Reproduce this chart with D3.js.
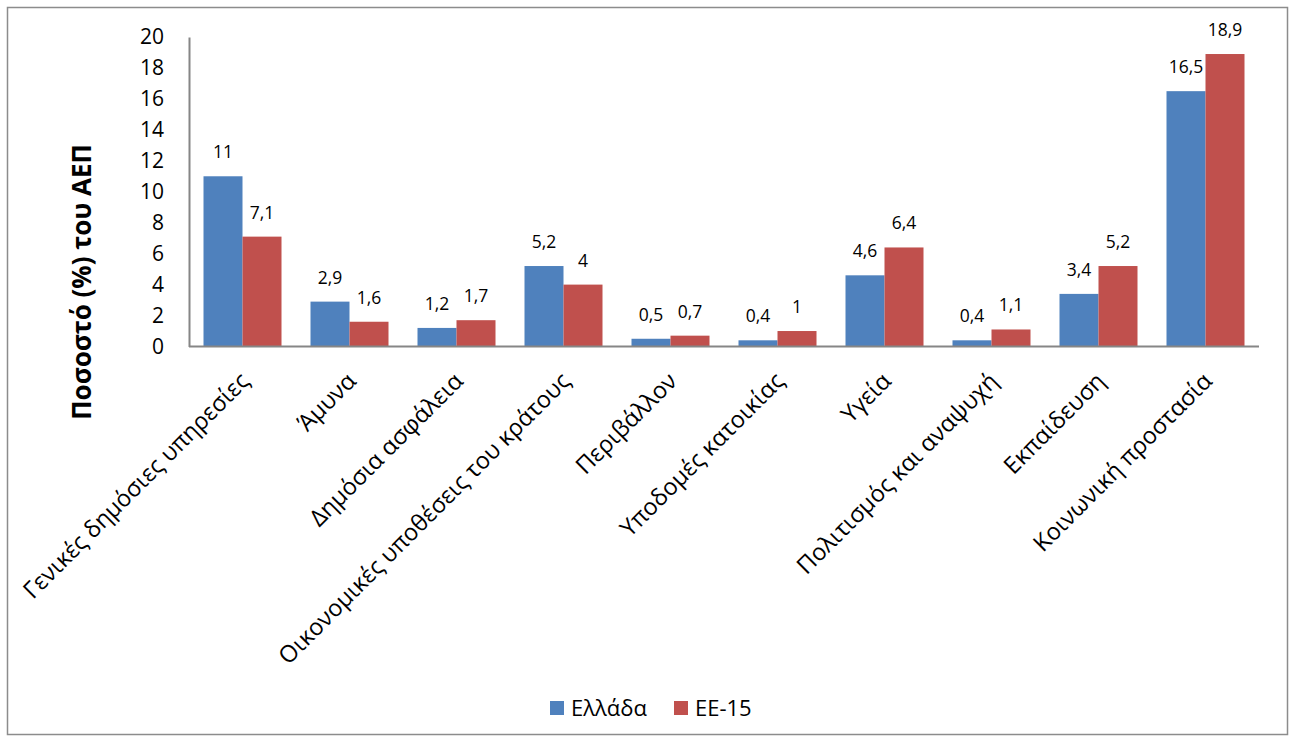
<!DOCTYPE html>
<html>
<head>
<meta charset="utf-8">
<script src="https://cdn.jsdelivr.net/npm/d3@7/dist/d3.min.js"></script>
<style>
  html, body { margin: 0; padding: 0; background: #fff; }
  svg { display: block; font-family: "Open Sans", "Noto Sans", sans-serif; }
</style>
</head>
<body>
<svg id="chart" width="1294" height="742"></svg>
<script>
// Government expenditure by function, % of GDP
const categories = [
  "Γενικές δημόσιες υπηρεσίες",
  "Άμυνα",
  "Δημόσια ασφάλεια",
  "Οικονομικές υποθέσεις του κράτους",
  "Περιβάλλον",
  "Υποδομές κατοικίας",
  "Υγεία",
  "Πολιτισμός και αναψυχή",
  "Εκπαίδευση",
  "Κοινωνική προστασία"
];
const seriesNames = ["Ελλάδα", "ΕΕ-15"];
const greece = [11, 2.9, 1.2, 5.2, 0.5, 0.4, 4.6, 0.4, 3.4, 16.5];
const eu15 = [7.1, 1.6, 1.7, 4, 0.7, 1, 6.4, 1.1, 5.2, 18.9];
const yTicks = [0, 2, 4, 6, 8, 10, 12, 14, 16, 18, 20];
const colors = ["#4F81BD", "#C0504D"];

const svg = d3.select("#chart");

// outer chart frame
svg.append("rect")
  .attr("x", 7.5).attr("y", 7.5)
  .attr("width", 1280).attr("height", 727)
  .attr("fill", "#fff").attr("stroke", "#8c8c8c").attr("stroke-width", 1.5);

const plot = { left: 189, right: 1259, top: 37, bottom: 346.5 };

const x = d3.scaleBand()
  .domain(categories)
  .range([plot.left, plot.right])
  .paddingInner(0.271)
  .paddingOuter(0.1355);

const xSub = d3.scaleBand()
  .domain(seriesNames)
  .range([0, x.bandwidth()]);

const y = d3.scaleLinear().domain([0, 20]).range([plot.bottom, plot.top]);

const fmt = v => String(v).replace(".", ",");

// bars
const rows = categories.map((c, i) => ({ cat: c, vals: [greece[i], eu15[i]] }));
const groups = svg.append("g").selectAll("g")
  .data(rows).join("g")
  .attr("transform", d => `translate(${x(d.cat)},0)`);

groups.selectAll("rect")
  .data(d => d.vals.map((v, j) => ({ v, s: seriesNames[j], j })))
  .join("rect")
  .attr("x", d => xSub(d.s))
  .attr("y", d => y(d.v))
  .attr("width", xSub.bandwidth())
  .attr("height", d => y(0) - y(d.v))
  .attr("fill", d => colors[d.j]);

// value labels
groups.selectAll("text")
  .data(d => d.vals.map((v, j) => ({ v, s: seriesNames[j], j })))
  .join("text")
  .attr("x", d => xSub(d.s) + xSub.bandwidth() / 2)
  .attr("y", d => y(d.v) - 18)
  .attr("text-anchor", "middle")
  .attr("font-size", 17.5)
  .attr("fill", "#000")
  .text(d => fmt(d.v));

// y axis
const yAxis = d3.axisLeft(y).tickValues(yTicks).tickSize(0).tickPadding(25);
const gy = svg.append("g").attr("transform", `translate(${plot.left},0)`).call(yAxis);
gy.select(".domain").attr("stroke", "#868686").attr("stroke-width", 2);
gy.selectAll("text").attr("font-size", 21).attr("fill", "#000")
  .attr("font-family", "\"Open Sans\", sans-serif");

// x axis
const xAxis = d3.axisBottom(x).tickSize(0).tickPadding(0);
const gx = svg.append("g").attr("transform", `translate(0,${plot.bottom})`).call(xAxis);
gx.select(".domain").attr("stroke", "#868686").attr("stroke-width", 2)
  .attr("d", `M${plot.left},0H${plot.right}`);
gx.selectAll("text")
  .attr("font-size", 23.5).attr("fill", "#000")
  .attr("font-family", "\"Open Sans\", sans-serif")
  .attr("text-anchor", "end")
  .attr("dy", 0)
  .attr("transform", "translate(8,36) rotate(-45)");

// y axis title
svg.append("text")
  .attr("transform", "translate(91,282) rotate(-90)")
  .attr("text-anchor", "middle")
  .attr("font-size", 26).attr("font-weight", "bold").attr("fill", "#000")
  .text("Ποσοστό (%) του ΑΕΠ");

// legend
const legend = svg.append("g").attr("transform", "translate(550,708)");
const items = legend.selectAll("g").data(seriesNames).join("g")
  .attr("transform", (d, i) => `translate(${i * 124},0)`);
items.append("rect")
  .attr("x", 0).attr("y", -7).attr("width", 14).attr("height", 14)
  .attr("fill", (d, i) => colors[i]);
items.append("text")
  .attr("x", 21).attr("y", 0).attr("dy", "0.35em")
  .attr("font-size", 22).attr("fill", "#000")
  .text(d => d);
</script>
</body>
</html>
